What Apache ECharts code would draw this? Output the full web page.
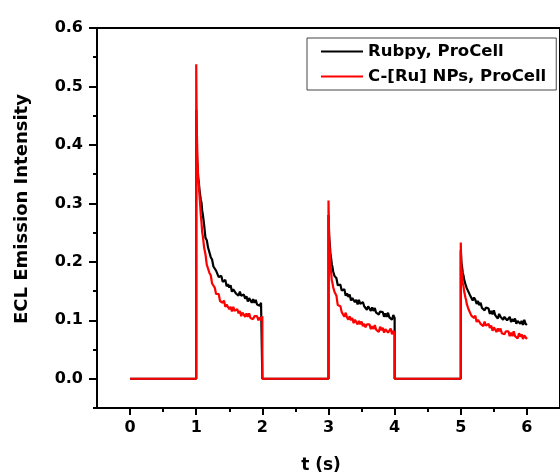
<!DOCTYPE html>
<html>
<head>
<meta charset="utf-8">
<script src="https://cdn.jsdelivr.net/npm/echarts@6/dist/echarts.min.js"></script>
<style>html,body{margin:0;padding:0;background:#fff;}#c{width:560px;height:475px;}</style>
</head>
<body>
<div id="c"></div>
<script>
// Time offsets (s) within each potential pulse
const pulseOffsets = [0,0.005,0.01,0.02,0.03,0.04,0.05,0.06,0.07,0.08,0.09,0.10,
  0.12,0.14,0.16,0.18,0.20,0.22,0.24,0.26,0.28,0.30,0.32,0.34,0.36,0.38,0.40,0.42,0.44,0.46,0.48,0.50,
  0.52,0.54,0.56,0.58,0.60,0.62,0.64,0.66,0.68,0.70,0.72,0.74,0.76,0.78,0.80,0.82,0.84,0.86,0.88,0.90,
  0.92,0.94,0.96,0.98,1.00];
const pulseStarts = [1, 3, 5];
const pulseEnds = [2, 4, null];

// Rubpy, ProCell (black)
const rubpy1 = [0.46,0.42,0.385,0.362,0.343,0.336,0.322,0.319,0.306,0.301,0.288,0.281,
  0.263,0.241,0.237,0.224,0.223,0.208,0.204,0.192,0.195,0.185,0.185,0.174,0.177,0.176,0.166,0.165,0.169,0.158,0.162,0.156,
  0.160,0.149,0.153,0.153,0.146,0.149,0.142,0.149,0.142,0.139,0.144,0.137,0.141,0.132,0.138,0.136,0.130,0.136,0.130,0.135,
  0.127,0.130,0.125,0.130,0.130];
const rubpy2 = [0.28,0.26,0.243,0.229,0.213,0.206,0.196,0.191,0.184,0.182,0.176,0.175,
  0.172,0.160,0.162,0.161,0.151,0.150,0.153,0.142,0.146,0.140,0.144,0.134,0.138,0.139,0.131,0.135,0.127,0.135,0.128,0.125,
  0.131,0.124,0.127,0.118,0.124,0.122,0.116,0.122,0.116,0.121,0.113,0.116,0.110,0.115,0.115,0.114,0.106,0.112,0.106,0.113,
  0.105,0.108,0.101,0.109,0.104];
const rubpy3 = [0.22,0.21,0.198,0.191,0.181,0.177,0.170,0.168,0.162,0.160,0.155,0.154,
  0.153,0.143,0.145,0.134,0.139,0.135,0.128,0.133,0.126,0.130,0.121,0.124,0.117,0.122,0.121,0.120,0.111,0.116,0.110,0.117,
  0.109,0.111,0.103,0.111,0.106,0.109,0.101,0.106,0.107,0.100,0.101,0.106,0.097,0.102,0.098,0.103,0.094,0.099,0.101,0.094,
  0.099,0.092,0.101,0.094,0.092];

// C-[Ru] NPs, ProCell (red)
const cru1 = [0.538,0.47,0.42,0.372,0.343,0.332,0.313,0.297,0.279,0.267,0.251,0.244,
  0.224,0.213,0.195,0.195,0.181,0.177,0.163,0.162,0.156,0.145,0.143,0.145,0.133,0.136,0.130,0.134,0.123,0.127,0.127,0.119,
  0.123,0.115,0.123,0.116,0.113,0.119,0.112,0.116,0.107,0.113,0.111,0.106,0.112,0.106,0.112,0.104,0.107,0.102,0.107,0.108,
  0.107,0.100,0.105,0.100,0.107];
const cru2 = [0.305,0.27,0.243,0.216,0.193,0.182,0.168,0.164,0.157,0.155,0.149,0.147,
  0.142,0.126,0.126,0.124,0.114,0.116,0.106,0.113,0.105,0.101,0.107,0.100,0.104,0.095,0.101,0.099,0.093,0.099,0.093,0.098,
  0.090,0.094,0.088,0.093,0.093,0.093,0.085,0.090,0.085,0.092,0.084,0.087,0.080,0.089,0.083,0.087,0.079,0.085,0.086,0.079,
  0.080,0.086,0.076,0.082,0.078];
const cru3 = [0.233,0.205,0.188,0.176,0.163,0.159,0.150,0.147,0.139,0.135,0.128,0.126,
  0.118,0.120,0.108,0.111,0.104,0.108,0.097,0.101,0.101,0.094,0.097,0.090,0.098,0.091,0.088,0.094,0.087,0.091,0.082,0.088,
  0.086,0.080,0.086,0.081,0.086,0.078,0.081,0.076,0.081,0.081,0.081,0.073,0.079,0.073,0.081,0.073,0.076,0.069,0.078,0.072,
  0.076,0.068,0.074,0.075,0.068];

const seriesNames = ['Rubpy, ProCell', 'C-[Ru] NPs, ProCell'];
const seriesColors = ['#000000', '#ff0000'];
const yTickValues = [0, 0.1, 0.2, 0.3, 0.4, 0.5, 0.6];
const yMinorValues = [-0.05, 0.05, 0.15, 0.25, 0.35, 0.45, 0.55];
const xTickValues = [0, 1, 2, 3, 4, 5, 6];
const xMinorValues = [0.5, 1.5, 2.5, 3.5, 4.5, 5.5];

function buildTrace(pulses) {
  const d = [[0, 0]];
  pulses.forEach((vals, k) => {
    const s = pulseStarts[k];
    d.push([s, 0]);
    pulseOffsets.forEach((o, i) => d.push([+(s + o).toFixed(3), vals[i]]));
    if (pulseEnds[k] !== null) d.push([pulseEnds[k], 0]);
  });
  return d;
}

const FONT = 'DejaVu Sans';
const lblStyle = { fontFamily: FONT, fontWeight: 'bold', fontSize: 16, color: '#000' };

const chart = echarts.init(document.getElementById('c'), null, { renderer: 'canvas' });
chart.setOption({
  animation: false,
  backgroundColor: '#fff',
  grid: { left: 97, top: 28, width: 470, height: 380, show: true, borderColor: '#000', borderWidth: 2 },
  legend: {
    left: 307, top: 38, orient: 'vertical',
    data: seriesNames.map((n, i) => ({ name: n, icon: 'rect', itemStyle: { color: seriesColors[i] } })),
    itemWidth: 42, itemHeight: 2, itemGap: 8,
    padding: [5, 10, 5, 14],
    borderColor: '#444', borderWidth: 1,
    textStyle: { fontFamily: FONT, fontWeight: 'bold', fontSize: 16.5, color: '#000', lineHeight: 17 }
  },
  xAxis: [
    { type: 'value', position: 'bottom', min: -0.5, max: 6.5,
      axisLine: { show: true, onZero: false, lineStyle: { color: '#000', width: 2 } },
      axisTick: { show: true, inside: false, length: 7, customValues: xTickValues, lineStyle: { color: '#000', width: 2 } },
      axisLabel: Object.assign({ margin: 12, customValues: xTickValues, formatter: v => String(v) }, lblStyle),
      splitLine: { show: false } },
    { type: 'value', position: 'bottom', min: -0.5, max: 6.5,
      axisLine: { show: false, onZero: false },
      axisTick: { show: true, inside: false, length: 4, customValues: xMinorValues, lineStyle: { color: '#000', width: 2 } },
      axisLabel: { show: false }, splitLine: { show: false } }
  ],
  yAxis: [
    { type: 'value', position: 'left', min: -0.05, max: 0.6,
      axisLine: { show: true, onZero: false, lineStyle: { color: '#000', width: 2 } },
      axisTick: { show: true, inside: false, length: 8, customValues: yTickValues, lineStyle: { color: '#000', width: 2 } },
      axisLabel: Object.assign({ margin: 14, customValues: yTickValues, formatter: v => v.toFixed(1) }, lblStyle),
      splitLine: { show: false } },
    { type: 'value', position: 'left', min: -0.05, max: 0.6,
      axisLine: { show: false, onZero: false },
      axisTick: { show: true, inside: false, length: 4, customValues: yMinorValues, lineStyle: { color: '#000', width: 2 } },
      axisLabel: { show: false }, splitLine: { show: false } }
  ],
  graphic: [
    { type: 'text', x: 22, y: 209, rotation: Math.PI / 2,
      style: { text: 'ECL Emission Intensity', fontFamily: FONT, fontWeight: 'bold', fontSize: 18, fill: '#000', align: 'center', verticalAlign: 'middle' } },
    { type: 'text', x: 321, y: 466,
      style: { text: 't (s)', fontFamily: FONT, fontWeight: 'bold', fontSize: 17, fill: '#000', align: 'center', verticalAlign: 'middle' } }
  ],
  series: [
    { name: seriesNames[0], type: 'line', xAxisIndex: 0, yAxisIndex: 0, showSymbol: false, symbol: 'none',
      data: buildTrace([rubpy1, rubpy2, rubpy3]),
      lineStyle: { color: seriesColors[0], width: 2.2 }, itemStyle: { color: seriesColors[0] } },
    { name: seriesNames[1], type: 'line', xAxisIndex: 0, yAxisIndex: 0, showSymbol: false, symbol: 'none',
      data: buildTrace([cru1, cru2, cru3]),
      lineStyle: { color: seriesColors[1], width: 2.2 }, itemStyle: { color: seriesColors[1] } }
  ]
});
</script>
</body>
</html>
